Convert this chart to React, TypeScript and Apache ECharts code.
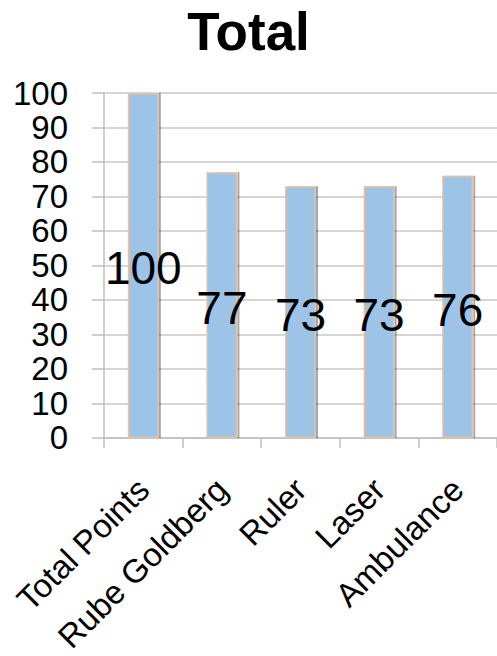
import React, { useEffect, useRef } from "react";
import * as echarts from "echarts";

const titleText = "Total";
const categories = ["Total Points", "Rube Goldberg", "Ruler", "Laser", "Ambulance"];
const values = [100, 77, 73, 73, 76];
const yMin = 0;
const yMax = 100;
const yInterval = 10;

const FONT = "'Liberation Sans', Arial, sans-serif";

export default function App() {
  const ref = useRef<HTMLDivElement>(null);
  useEffect(() => {
    if (!ref.current) return;
    const chart = echarts.init(ref.current, undefined, { renderer: "svg" });
    chart.setOption({
      animation: false,
      backgroundColor: "#ffffff",
      title: {
        text: titleText,
        left: "center",
        top: 0,
        textStyle: { fontFamily: FONT, fontSize: 53, fontWeight: "bold", color: "#000" },
      },
      grid: { left: 104, right: 0, top: 93, bottom: 215, containLabel: false },
      xAxis: {
        type: "category",
        data: categories,
        axisLine: { show: true, lineStyle: { color: "#bfbfbf", width: 1.5 } },
        axisTick: { show: true, length: 10, lineStyle: { color: "#bfbfbf", width: 1.5 } },
        axisLabel: {
          rotate: 45,
          interval: 0,
          margin: 46,
          fontFamily: FONT,
          fontSize: 33,
          color: "#000",
        },
        splitLine: { show: false },
      },
      yAxis: {
        type: "value",
        min: yMin,
        max: yMax,
        interval: yInterval,
        axisLine: { show: true, lineStyle: { color: "#bfbfbf", width: 1.5 } },
        axisTick: { show: true, inside: false, length: 12, lineStyle: { color: "#bfbfbf", width: 1.5 } },
        axisLabel: { margin: 36, fontFamily: FONT, fontSize: 33, color: "#000" },
        splitLine: { show: true, lineStyle: { color: "#c8c8c8", width: 1.5 } },
      },
      series: [
        {
          type: "bar",
          data: values,
          barWidth: 31,
          itemStyle: {
            color: "#9DC3E6",
            borderColor: "#e3c3a3",
            borderWidth: 1.5,
            shadowColor: "rgba(0,0,0,0.35)",
            shadowOffsetX: 2,
            shadowBlur: 1,
          },
          label: {
            show: true,
            position: "inside",
            offset: [0, 3],
            fontFamily: FONT,
            fontSize: 46,
            color: "#000",
          },
        },
      ],
    });
    return () => chart.dispose();
  }, []);
  return (
    <div
      ref={ref}
      style={{ position: "fixed", left: 0, top: 0, width: 497, height: 656, background: "#fff" }}
    />
  );
}
